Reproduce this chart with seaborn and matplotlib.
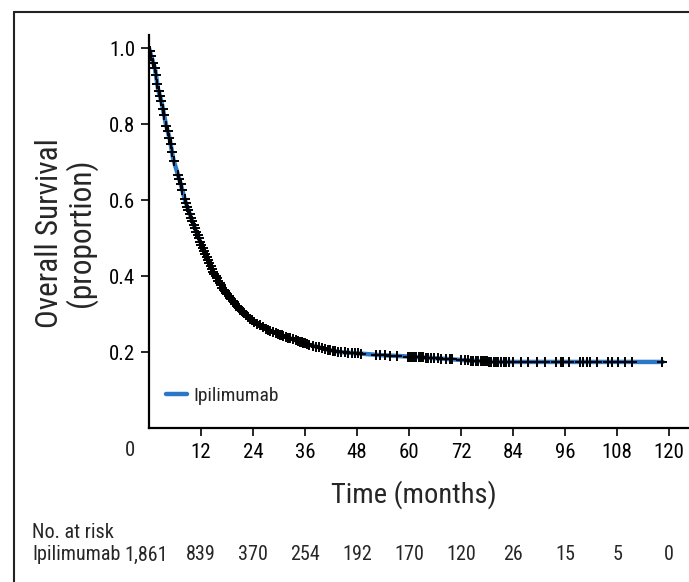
import matplotlib
matplotlib.use("Agg")
import matplotlib.pyplot as plt
import matplotlib.font_manager as fm
from matplotlib.lines import Line2D
import numpy as np
import pandas as pd
import seaborn as sns

# ---------------- data ----------------
curve_months = [0, 1.4, 2.1, 2.9, 3.9, 4.8, 5.6, 7.2, 8.3, 9.5, 11.0, 12.5, 14.8,
                17.1, 20.2, 23.3, 27.1, 31.8, 36.4, 41.0, 44.0, 48.7, 53.3, 60.2,
                67.1, 74.8, 80.0, 90.0, 118.5]
curve_surv = [1.0, 0.945, 0.892, 0.858, 0.80, 0.76, 0.708, 0.647, 0.60, 0.560, 0.514,
              0.471, 0.412, 0.366, 0.322, 0.287, 0.260, 0.239, 0.221, 0.207, 0.200,
              0.196, 0.192, 0.188, 0.183, 0.177, 0.174, 0.174, 0.174]

censor_months = [
    0.2, 0.5, 1.0, 1.3, 1.6, 1.9, 2.2, 2.5, 2.8, 3.2, 3.5, 4.0, 4.3, 4.7, 5.0, 5.3,
    5.7, 6.7, 7.0, 7.3, 7.7, 8.2, 8.5, 8.8, 9.1, 9.4, 9.7, 10.0, 10.3, 10.6, 10.9,
    11.2, 11.5, 11.8, 12.1, 12.4, 12.7, 13.0, 13.3, 13.6, 13.9, 14.2, 14.5, 14.8,
    15.1, 15.4, 15.7, 16.0, 16.3, 16.6, 16.9, 17.2, 17.5, 17.8, 18.1, 18.4, 18.7,
    19.0, 19.3, 19.6, 19.9, 20.2, 20.5, 20.8, 21.1, 21.4, 21.7, 22.0, 22.4, 22.8,
    23.2, 23.7, 24.3, 25.0, 25.6, 26.4, 27.0, 27.5, 28.0, 28.6, 29.2, 29.8, 30.2,
    30.6, 31.0, 31.5, 32.0, 32.6, 33.2, 33.8, 34.3, 34.8, 35.2, 35.6, 36.0, 36.4,
    36.8, 37.8, 38.6, 39.3, 40.0, 40.6, 41.2, 41.8, 42.4, 43.0, 43.7, 44.4, 45.2,
    46.0, 46.8, 47.5, 48.3, 49.0, 52.4, 53.4, 54.4, 55.6, 57.2, 59.7, 60.2, 60.7,
    61.2, 61.7, 62.2, 62.7, 63.2, 63.8, 64.4, 65.0, 65.8, 66.6, 67.4, 68.4, 69.4,
    70.0, 72.0, 72.8, 73.5, 74.2, 74.8, 75.4, 76.0, 76.5, 77.0, 77.5, 78.0, 78.5,
    79.0, 79.5, 80.0, 80.6, 81.2, 81.8, 82.4, 83.0, 84.0, 85.7, 87.4, 89.6, 91.3,
    93.9, 95.0, 95.6, 96.8, 99.4, 100.2, 101.0, 101.7, 103.3, 105.9, 106.8, 108.2,
    109.8, 111.4, 118.3]

group_name = "Ipilimumab"
x_ticks = [12, 24, 36, 48, 60, 72, 84, 96, 108, 120]
x_zero_label = "0"
y_ticks = [0.2, 0.4, 0.6, 0.8, 1.0]
risk_months = [0, 12, 24, 36, 48, 60, 72, 84, 96, 108, 120]
risk_counts = ["1,861", "839", "370", "254", "192", "170", "120", "26", "15", "5", "0"]

# ---------------- style ----------------
sns.set_theme(style="ticks")
avail = {f.name for f in fm.fontManager.ttflist}
fam = None
for cand in ["Liberation Sans Narrow", "Roboto Condensed", "Open Sans Condensed"]:
    if cand in avail:
        fam = cand
        break
if fam is None:
    fam = "DejaVu Sans"
    plt.rcParams["font.stretch"] = "condensed"
plt.rcParams["font.family"] = [fam, "DejaVu Sans"]

W, H = 689, 582
fig = plt.figure(figsize=(W / 100, H / 100), dpi=100)

ax_left_px, ax_right_px = 149, 689
ax_top_px, ax_bot_px = 35, 428
ax = fig.add_axes([ax_left_px / W, 1 - ax_bot_px / H,
                   (ax_right_px - ax_left_px) / W, (ax_bot_px - ax_top_px) / H])

px_per_month = 4.335
xmax = (ax_right_px - ax_left_px) / px_per_month
ax.set_xlim(0, xmax)
ax.set_ylim(0, 1.035)

blue = "#2a78c6"
curve_df = pd.DataFrame({"month": curve_months, "surv": curve_surv})
sns.lineplot(data=curve_df, x="month", y="surv", ax=ax, color=blue, lw=3.2,
             sort=False, estimator=None, label=group_name, zorder=2)

cens_y = np.interp(censor_months, curve_months, curve_surv)
cens_df = pd.DataFrame({"month": censor_months, "surv": cens_y})
sns.scatterplot(data=cens_df, x="month", y="surv", ax=ax, marker="+", s=50,
                color="black", linewidth=1.4, zorder=3, legend=False)

for s in ["top", "right"]:
    ax.spines[s].set_visible(False)
for s in ["left", "bottom"]:
    ax.spines[s].set_linewidth(1.6)
    ax.spines[s].set_color("black")

ax.set_xticks(x_ticks)
ax.set_xticklabels([str(t) for t in x_ticks])
ax.set_yticks(y_ticks)
ax.set_yticklabels([f"{v:.1f}" for v in y_ticks])
ax.tick_params(axis="both", direction="out", length=6, width=1.2, color="black",
               labelsize=15, labelcolor="black")
ax.tick_params(axis="x", pad=5)
ax.tick_params(axis="y", pad=4)

ax.set_xlabel("")
ax.set_ylabel("")

# "0" label offset to the left of the origin
fig.text(130 / W, 1 - 451 / H, x_zero_label, ha="center", va="center", fontsize=15)

fig.text(414 / W, 1 - 495 / H, "Time (months)", ha="center", va="center", fontsize=20.5)
fig.text(66 / W, 1 - 233 / H, "Overall Survival\n(proportion)", ha="center",
         va="center", rotation=90, fontsize=22.5, linespacing=1.05)

leg = ax.legend(loc="center left", bbox_to_anchor=(166 / W, 1 - 396 / H),
                bbox_transform=fig.transFigure, frameon=False, fontsize=14,
                handlelength=1.1, handletextpad=0.3, borderpad=0, borderaxespad=0)
for h in leg.get_lines():
    h.set_linewidth(3.2)

# number at risk table
fig.text(32 / W, 1 - 533 / H, "No. at risk", ha="left", va="center", fontsize=14.5)
fig.text(32 / W, 1 - 555 / H, group_name, ha="left", va="center", fontsize=14.5)
for m, c in zip(risk_months, risk_counts):
    xpx = ax_left_px + m * px_per_month
    if m == 0:
        xpx = 146
    fig.text(xpx / W, 1 - 555 / H, c, ha="center", va="center", fontsize=14.5)

# outer frame (top and left edges)
fig.add_artist(Line2D([14 / W, 14 / W], [0, 1 - 12 / H], transform=fig.transFigure,
                      color="#222222", lw=1.5))
fig.add_artist(Line2D([14 / W, 1], [1 - 12 / H, 1 - 12 / H], transform=fig.transFigure,
                      color="#222222", lw=1.5))

fig.savefig("out.png", dpi=100)
